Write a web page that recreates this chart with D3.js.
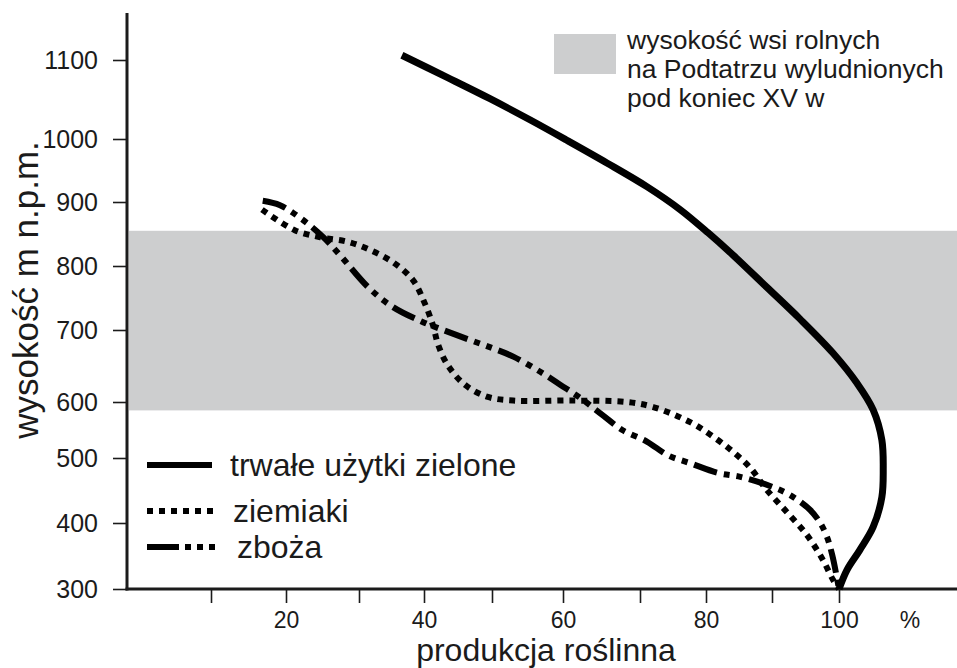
<!DOCTYPE html>
<html>
<head>
<meta charset="utf-8">
<script src="https://cdn.jsdelivr.net/npm/d3@7"></script>
<style>
  body { margin: 0; background: #fff; }
  svg { display: block; font-family: "Liberation Sans", Arial, sans-serif; }
</style>
</head>
<body>
<svg width="957" height="668"></svg>
<script>
// data: [produkcja %, wysokość m n.p.m.]
const xTicks = [10, 20, 30, 40, 50, 60, 70, 80, 90, 100];
const xLabels = [20, 40, 60, 80, 100];
const yTicks = [300, 400, 500, 600, 700, 800, 900, 1000, 1100];
const band = [585, 855];
const bandLabel = ["wysokość wsi rolnych", "na Podtatrzu wyludnionych", "pod koniec XV w"];
const seriesNames = ["trwałe użytki zielone", "ziemiaki", "zboża"];

const trwale = [
  [36.6, 1106], [43.4, 1078], [49.7, 1051], [55.4, 1024], [60.5, 998], [65.7, 962],
  [71.1, 924], [76.1, 888], [80.3, 852], [84.1, 817], [89.2, 767], [94.2, 717],
  [99.1, 668], [102.7, 626], [105.1, 586], [106.4, 532], [106.6, 482], [106.4, 440],
  [105.1, 394], [103.1, 359], [101.2, 329], [100, 300]
];
const ziemiaki = [
  [16.8, 888], [21.2, 856], [24.7, 845], [28.4, 838], [31.7, 825], [35.2, 806],
  [38.3, 778], [40.1, 742], [41.3, 708], [42.1, 679], [43.5, 651], [46.0, 624],
  [49.4, 607], [53.0, 602], [61.3, 602], [68.3, 600], [72.0, 591], [77.6, 564],
  [81.1, 538], [84.1, 511], [86.7, 485], [89.2, 451], [92.2, 417], [95.2, 382],
  [97.6, 344], [99.1, 314], [100, 300]
];
const zboza = [
  [16.9, 902], [19.2, 895], [22.2, 873], [25.1, 845], [27.4, 817], [31.4, 767],
  [35.2, 736], [39.7, 713], [42.8, 700], [46.8, 686], [50.0, 675], [53.0, 663],
  [56.8, 642], [59.6, 624], [62.2, 606], [65.1, 577], [67.7, 550], [71.1, 529],
  [74.2, 505], [77.6, 492], [81.8, 477], [85.2, 471], [89.7, 457], [92.7, 443],
  [95.7, 420], [97.2, 400], [98.2, 379], [99.0, 351], [100, 300]
];

const svg = d3.select("svg");
const ink = "#1b1b1b";
const axisLeftX = 127, axisBottomY = 589;

// the printed axes are hand drawn, so the ticks are not evenly spaced
const x = d3.scaleLinear()
  .domain(xTicks)
  .range([211, 286, 359, 424, 492, 563, 640, 706, 772, 839]);
const y = d3.scaleLinear()
  .domain(yTicks)
  .range([589, 523, 458, 402, 330, 266, 202, 139, 60]);

// grey band
svg.append("rect")
  .attr("x", axisLeftX + 2)
  .attr("y", y(band[1]))
  .attr("width", 957 - axisLeftX - 2)
  .attr("height", y(band[0]) - y(band[1]))
  .attr("fill", "#cdcecf");

// y axis
const gy = svg.append("g")
  .attr("transform", `translate(${axisLeftX},0)`)
  .call(d3.axisLeft(y).tickValues(yTicks).tickSize(14).tickPadding(15)
    .tickFormat(d3.format("d")));
gy.select(".domain").remove();
gy.selectAll(".tick line").attr("stroke", ink).attr("stroke-width", 1.6);
gy.selectAll(".tick text")
  .attr("fill", ink)
  .style("font-size", "25px")
  .style("font-family", "Liberation Sans, Arial, sans-serif");

// x axis
const gx = svg.append("g")
  .attr("transform", `translate(0,${axisBottomY})`)
  .call(d3.axisBottom(x).tickValues(xTicks).tickSize(14).tickPadding(9)
    .tickFormat(d => xLabels.includes(d) ? d : ""));
gx.select(".domain").remove();
gx.selectAll(".tick line").attr("stroke", ink).attr("stroke-width", 1.6);
gx.selectAll(".tick text")
  .attr("fill", ink)
  .style("font-size", "23px")
  .style("font-family", "Liberation Sans, Arial, sans-serif");

svg.append("text")
  .attr("x", 910).attr("y", 628)
  .attr("text-anchor", "middle")
  .attr("fill", ink)
  .style("font-size", "23px")
  .text("%");

// axis lines
svg.append("line")
  .attr("x1", axisLeftX).attr("x2", axisLeftX)
  .attr("y1", 13).attr("y2", axisBottomY + 1.5)
  .attr("stroke", ink).attr("stroke-width", 3);
svg.append("line")
  .attr("x1", axisLeftX - 1.5).attr("x2", 957)
  .attr("y1", axisBottomY).attr("y2", axisBottomY)
  .attr("stroke", ink).attr("stroke-width", 3);

// axis titles
svg.append("text")
  .attr("transform", "translate(38,290) rotate(-90)")
  .attr("text-anchor", "middle")
  .attr("fill", ink)
  .style("font-size", "35px")
  .text("wysokość m n.p.m.");
svg.append("text")
  .attr("x", 546).attr("y", 661)
  .attr("text-anchor", "middle")
  .attr("fill", ink)
  .style("font-size", "32px")
  .text("produkcja roślinna");

// curves
const line = d3.line()
  .x(d => x(d[0]))
  .y(d => y(d[1]))
  .curve(d3.curveCatmullRom.alpha(0.5));

const styles = [
  { data: trwale, width: 7, dash: null },
  { data: ziemiaki, width: 6, dash: "6 6" },
  { data: zboza, width: 6, dash: "24 7 6 7 6 7" }
];

svg.append("g")
  .selectAll("path")
  .data(styles)
  .join("path")
  .attr("d", d => line(d.data))
  .attr("fill", "none")
  .attr("stroke", "#000")
  .attr("stroke-width", d => d.width)
  .attr("stroke-linejoin", "round")
  .attr("stroke-dasharray", d => d.dash);

// legend, bottom left
const legendRows = [
  { name: seriesNames[0], ly: 465, ty: 476, tx: 230, dash: null },
  { name: seriesNames[1], ly: 511, ty: 522, tx: 233, dash: "6 6" },
  { name: seriesNames[2], ly: 547, ty: 558, tx: 237, dash: "32 6 6 6 6 6 6 100" }
];
const lg = svg.append("g");
lg.selectAll("line")
  .data(legendRows)
  .join("line")
  .attr("x1", 147).attr("x2", d => d.dash ? 218 : 212)
  .attr("y1", d => d.ly).attr("y2", d => d.ly)
  .attr("stroke", "#000")
  .attr("stroke-width", 6)
  .attr("stroke-dasharray", d => d.dash);
lg.selectAll("text")
  .data(legendRows)
  .join("text")
  .attr("x", d => d.tx).attr("y", d => d.ty)
  .attr("fill", ink)
  .style("font-size", "32px")
  .text(d => d.name);

// legend, top right
svg.append("rect")
  .attr("x", 554).attr("y", 34)
  .attr("width", 62).attr("height", 40)
  .attr("fill", "#cdcecf");
svg.append("g")
  .selectAll("text")
  .data(bandLabel)
  .join("text")
  .attr("x", 627)
  .attr("y", (d, i) => 49 + i * 29)
  .attr("fill", ink)
  .style("font-size", "26.5px")
  .text(d => d);
</script>
</body>
</html>
